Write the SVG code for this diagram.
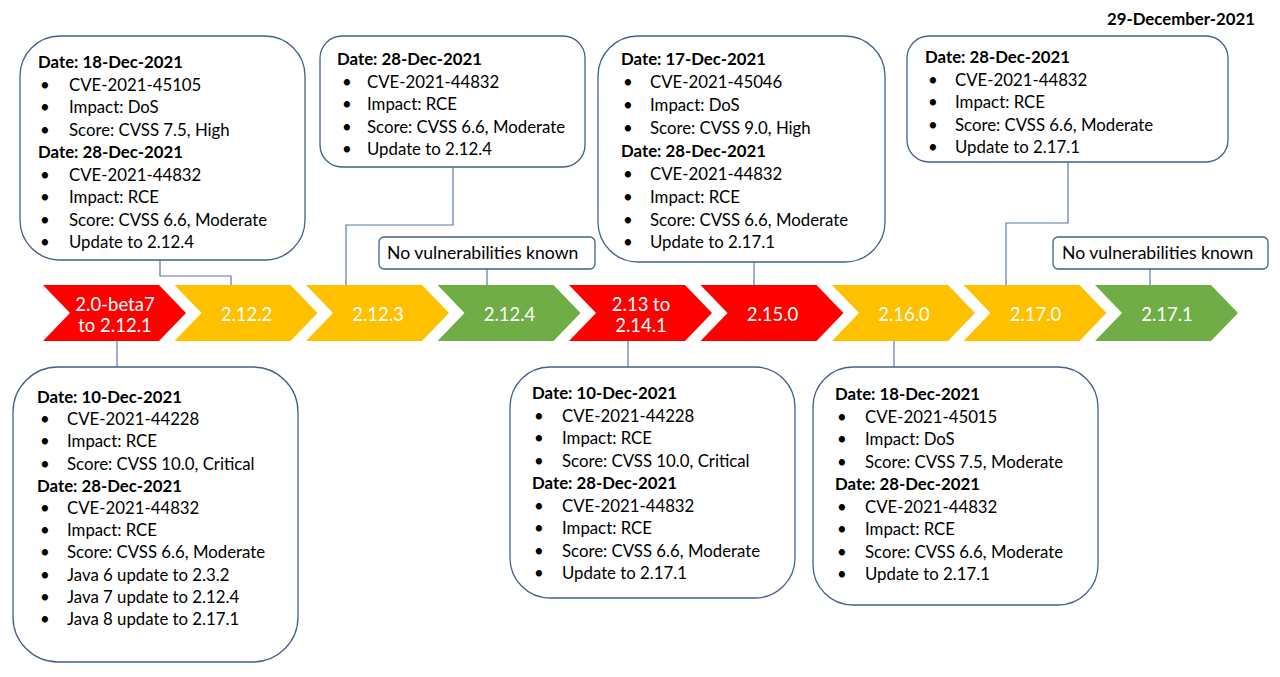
<svg xmlns="http://www.w3.org/2000/svg" width="1280" height="677" viewBox="0 0 1280 677">
<style>
.box{fill:#fff;stroke:#44608c;stroke-width:1.3}
.t{font-family:Lato,"Open Sans","Liberation Sans",sans-serif;font-size:16.8px;fill:#000}
.b{font-weight:bold}
.nv{font-size:17.6px}
.ch{font-family:Lato,"Open Sans","Liberation Sans",sans-serif;font-size:18.5px;fill:#fff;text-anchor:middle}
.red{fill:#ff0000}.yel{fill:#ffc000}.grn{fill:#70ad47}
.con{fill:none;stroke:#5a78a8;stroke-width:1.2}
</style>
<defs>
<path id="chev" d="M0,285 H116 L143,313 L116,341 H0 L27,313 Z"/>
</defs>
<rect width="1280" height="677" fill="#fff"/>
<text class="t b" x="1255" y="25" text-anchor="end" font-size="17.5">29-December-2021</text>

<g id="connectors">
<polyline class="con" points="160,260 160,276 231,276 231,286"/>
<polyline class="con" points="453,167 453,225 346,225 346,286"/>
<line class="con" x1="487" y1="269" x2="487" y2="286"/>
<line class="con" x1="754" y1="262" x2="754" y2="286"/>
<polyline class="con" points="1068,162 1068,223 1006,223 1006,286"/>
<line class="con" x1="1150" y1="269" x2="1150" y2="286"/>
<line class="con" x1="117" y1="340" x2="117" y2="367"/>
<line class="con" x1="628" y1="340" x2="628" y2="367"/>
<line class="con" x1="894" y1="340" x2="894" y2="367"/>
</g>

<g id="v1"><use href="#chev" x="43" class="red"/><text class="ch" x="115" y="311">2.0-beta7</text><text class="ch" x="115" y="332">to 2.12.1</text></g>
<g id="v2"><use href="#chev" x="174.5" class="yel"/><text class="ch" x="246.5" y="321">2.12.2</text></g>
<g id="v3"><use href="#chev" x="306" class="yel"/><text class="ch" x="378" y="321">2.12.3</text></g>
<g id="v4"><use href="#chev" x="437.5" class="grn"/><text class="ch" x="509.5" y="321">2.12.4</text></g>
<g id="v5"><use href="#chev" x="569" class="red"/><text class="ch" x="641" y="311">2.13 to</text><text class="ch" x="641" y="332">2.14.1</text></g>
<g id="v6"><use href="#chev" x="700.5" class="red"/><text class="ch" x="772.5" y="321">2.15.0</text></g>
<g id="v7"><use href="#chev" x="832" class="yel"/><text class="ch" x="904" y="321">2.16.0</text></g>
<g id="v8"><use href="#chev" x="963.5" class="yel"/><text class="ch" x="1035.5" y="321">2.17.0</text></g>
<g id="v9"><use href="#chev" x="1095" class="grn"/><text class="ch" x="1167" y="321">2.17.1</text></g>

<g id="boxA">
<rect class="box" x="20" y="36" width="285" height="224" rx="40"/>
<text class="t b" x="38" y="68">Date: 18-Dec-2021</text>
<text class="t" x="40" y="90.5">•</text><text class="t" x="69" y="90.5">CVE-2021-45105</text>
<text class="t" x="40" y="113">•</text><text class="t" x="69" y="113">Impact: DoS</text>
<text class="t" x="40" y="135.5">•</text><text class="t" x="69" y="135.5">Score: CVSS 7.5, High</text>
<text class="t b" x="38" y="158">Date: 28-Dec-2021</text>
<text class="t" x="40" y="180.5">•</text><text class="t" x="69" y="180.5">CVE-2021-44832</text>
<text class="t" x="40" y="203">•</text><text class="t" x="69" y="203">Impact: RCE</text>
<text class="t" x="40" y="225.5">•</text><text class="t" x="69" y="225.5">Score: CVSS 6.6, Moderate</text>
<text class="t" x="40" y="248">•</text><text class="t" x="69" y="248">Update to 2.12.4</text>
</g>

<g id="boxB">
<rect class="box" x="320" y="36" width="265" height="131" rx="22"/>
<text class="t b" x="337" y="65">Date: 28-Dec-2021</text>
<text class="t" x="342" y="87.5">•</text><text class="t" x="367" y="87.5">CVE-2021-44832</text>
<text class="t" x="342" y="110">•</text><text class="t" x="367" y="110">Impact: RCE</text>
<text class="t" x="342" y="132.5">•</text><text class="t" x="367" y="132.5">Score: CVSS 6.6, Moderate</text>
<text class="t" x="342" y="155">•</text><text class="t" x="367" y="155">Update to 2.12.4</text>
</g>

<g id="nv1">
<rect class="box" x="379" y="237" width="216" height="32" rx="5"/>
<text class="t nv" x="387" y="259">No vulnerabilities known</text>
</g>

<g id="boxC">
<rect class="box" x="598" y="36" width="287" height="226" rx="40"/>
<text class="t b" x="621" y="65">Date: 17-Dec-2021</text>
<text class="t" x="623" y="88">•</text><text class="t" x="650" y="88">CVE-2021-45046</text>
<text class="t" x="623" y="111">•</text><text class="t" x="650" y="111">Impact: DoS</text>
<text class="t" x="623" y="134">•</text><text class="t" x="650" y="134">Score: CVSS 9.0, High</text>
<text class="t b" x="621" y="157">Date: 28-Dec-2021</text>
<text class="t" x="623" y="180">•</text><text class="t" x="650" y="180">CVE-2021-44832</text>
<text class="t" x="623" y="203">•</text><text class="t" x="650" y="203">Impact: RCE</text>
<text class="t" x="623" y="225.5">•</text><text class="t" x="650" y="225.5">Score: CVSS 6.6, Moderate</text>
<text class="t" x="623" y="248">•</text><text class="t" x="650" y="248">Update to 2.17.1</text>
</g>

<g id="boxTR">
<rect class="box" x="907" y="36" width="321" height="126" rx="22"/>
<text class="t b" x="925" y="63">Date: 28-Dec-2021</text>
<text class="t" x="928" y="85.5">•</text><text class="t" x="955" y="85.5">CVE-2021-44832</text>
<text class="t" x="928" y="108">•</text><text class="t" x="955" y="108">Impact: RCE</text>
<text class="t" x="928" y="130.5">•</text><text class="t" x="955" y="130.5">Score: CVSS 6.6, Moderate</text>
<text class="t" x="928" y="153">•</text><text class="t" x="955" y="153">Update to 2.17.1</text>
</g>

<g id="nv2">
<rect class="box" x="1053" y="237" width="215" height="32" rx="5"/>
<text class="t nv" x="1062" y="259">No vulnerabilities known</text>
</g>

<g id="boxD">
<rect class="box" x="13" y="367" width="285" height="295" rx="45"/>
<text class="t b" x="37" y="403">Date: 10-Dec-2021</text>
<text class="t" x="40" y="425.2">•</text><text class="t" x="67" y="425.2">CVE-2021-44228</text>
<text class="t" x="40" y="447.4">•</text><text class="t" x="67" y="447.4">Impact: RCE</text>
<text class="t" x="40" y="469.6">•</text><text class="t" x="67" y="469.6">Score: CVSS 10.0, Critical</text>
<text class="t b" x="37" y="491.8">Date: 28-Dec-2021</text>
<text class="t" x="40" y="514">•</text><text class="t" x="67" y="514">CVE-2021-44832</text>
<text class="t" x="40" y="536.2">•</text><text class="t" x="67" y="536.2">Impact: RCE</text>
<text class="t" x="40" y="558.4">•</text><text class="t" x="67" y="558.4">Score: CVSS 6.6, Moderate</text>
<text class="t" x="40" y="580.6">•</text><text class="t" x="67" y="580.6">Java 6 update to 2.3.2</text>
<text class="t" x="40" y="602.8">•</text><text class="t" x="67" y="602.8">Java 7 update to 2.12.4</text>
<text class="t" x="40" y="625">•</text><text class="t" x="67" y="625">Java 8 update to 2.17.1</text>
</g>

<g id="boxE">
<rect class="box" x="510" y="367" width="285" height="231" rx="40"/>
<text class="t b" x="532" y="399">Date: 10-Dec-2021</text>
<text class="t" x="534" y="421.5">•</text><text class="t" x="562" y="421.5">CVE-2021-44228</text>
<text class="t" x="534" y="444">•</text><text class="t" x="562" y="444">Impact: RCE</text>
<text class="t" x="534" y="466.5">•</text><text class="t" x="562" y="466.5">Score: CVSS 10.0, Critical</text>
<text class="t b" x="532" y="489">Date: 28-Dec-2021</text>
<text class="t" x="534" y="511.5">•</text><text class="t" x="562" y="511.5">CVE-2021-44832</text>
<text class="t" x="534" y="534">•</text><text class="t" x="562" y="534">Impact: RCE</text>
<text class="t" x="534" y="556.5">•</text><text class="t" x="562" y="556.5">Score: CVSS 6.6, Moderate</text>
<text class="t" x="534" y="579">•</text><text class="t" x="562" y="579">Update to 2.17.1</text>
</g>

<g id="boxF">
<rect class="box" x="813" y="367" width="285" height="238" rx="40"/>
<text class="t b" x="835" y="400">Date: 18-Dec-2021</text>
<text class="t" x="837" y="422.5">•</text><text class="t" x="865" y="422.5">CVE-2021-45015</text>
<text class="t" x="837" y="445">•</text><text class="t" x="865" y="445">Impact: DoS</text>
<text class="t" x="837" y="467.5">•</text><text class="t" x="865" y="467.5">Score: CVSS 7.5, Moderate</text>
<text class="t b" x="835" y="490">Date: 28-Dec-2021</text>
<text class="t" x="837" y="512.5">•</text><text class="t" x="865" y="512.5">CVE-2021-44832</text>
<text class="t" x="837" y="535">•</text><text class="t" x="865" y="535">Impact: RCE</text>
<text class="t" x="837" y="557.5">•</text><text class="t" x="865" y="557.5">Score: CVSS 6.6, Moderate</text>
<text class="t" x="837" y="580">•</text><text class="t" x="865" y="580">Update to 2.17.1</text>
</g>
</svg>
